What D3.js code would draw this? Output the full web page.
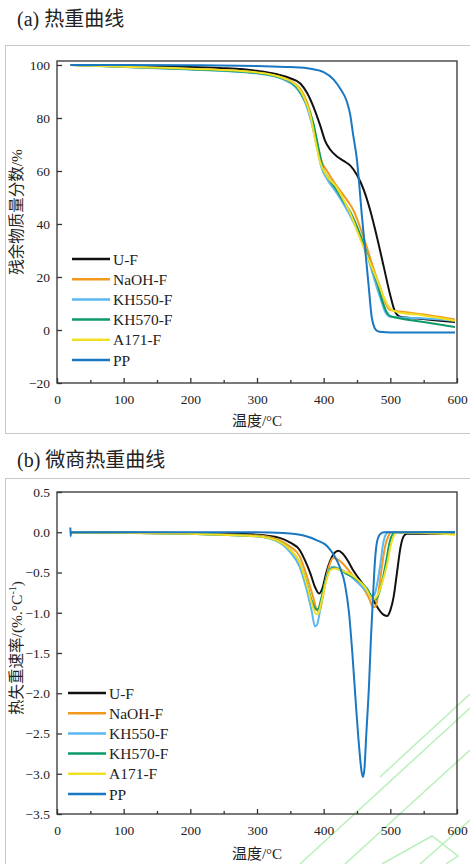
<!doctype html>
<html lang="zh">
<head>
<meta charset="utf-8">
<title>TG / DTG</title>
<style>
  body { margin: 0; background: #fff; }
  svg text { font-family: "Liberation Serif", "Times New Roman", "Noto Sans CJK SC", serif; fill: #222; }
  .cjk { font-family: "Liberation Serif", "Noto Sans CJK SC", sans-serif; }
</style>
</head>
<body>
<svg width="470" height="864"></svg>
<script src="https://d3js.org/d3.v7.min.js"></script>
<script>
// series names and colours (legend order)
var names = ["U-F", "NaOH-F", "KH550-F", "KH570-F", "A171-F", "PP"];
var colors = ["#111111", "#f39a1e", "#5bb7ef", "#0d9a68", "#f0df22", "#1a78c2"];

var xTicks = [0, 100, 200, 300, 400, 500, 600];
var tgTicks = [-20, 0, 20, 40, 60, 80, 100];
var dtgTicks = [-3.5, -3.0, -2.5, -2.0, -1.5, -1.0, -0.5, 0.0, 0.5];

// TG curves: [temperature, residual mass %]
var tgUF = [[20,100],[100,99.7],[200,99.2],[250,98.8],[300,97.8],[330,96.5],[350,95],[365,93],[375,89.5],[385,84],[395,77],[402,71.5],[410,68],[420,65.5],[430,63.8],[440,62],[450,58.5],[460,53],[470,45],[480,35],[490,24],[500,13],[507,7],[515,5],[540,4.3],[570,3.6],[597,3]];
var tgNaOH = [[20,100],[100,99.3],[200,98.5],[250,98],[300,97],[330,95.8],[350,94],[365,91],[375,86],[385,77],[392,68],[398,63],[405,60],[415,56],[425,52.5],[435,49],[445,45],[455,38.5],[465,31],[475,23],[485,16],[493,10],[500,7.5],[520,6.8],[560,5.5],[597,4]];
var tgKH550 = [[20,100],[100,99.2],[200,98.3],[300,96.8],[340,94.5],[360,91],[372,86],[382,78],[390,69],[397,61],[405,57],[420,51.5],[440,43],[455,35],[465,28.5],[475,20],[485,12],[492,7],[500,5],[540,4.5],[597,3.5]];
var tgKH570 = [[20,100],[100,99.3],[200,98.4],[300,97],[340,94.8],[360,91.5],[372,86.5],[384,78.5],[392,69],[399,61],[408,57],[419,53],[430,48.5],[440,44.5],[450,39],[459,33],[470,25],[480,18],[488,11],[494,7],[500,5.2],[510,4.6],[550,3],[597,1.1]];
var tgA171 = [[20,100],[100,99.3],[200,98.6],[300,97.2],[340,95],[360,92],[370,88],[380,81],[388,71],[394,64],[405,58],[419,54],[430,49],[440,44],[450,37.5],[459,31.7],[470,25],[480,19],[490,12.5],[500,8],[510,6.8],[550,5.5],[597,3.5]];
var tgPP = [[20,100],[100,100],[200,99.9],[300,99.6],[350,99.2],[380,98.6],[400,97.3],[415,94.5],[425,91],[435,86],[440,81],[444,74],[450,64],[453,56],[457,44],[462,31],[467,18],[472,5],[476,1],[480,-0.3],[488,-0.8],[500,-0.9],[597,-0.9]];

// DTG curves: [temperature, rate %/°C]
var dtgUF = [[20,0],[200,-0.01],[300,-0.03],[334,-0.07],[350,-0.13],[364,-0.22],[372,-0.35],[380,-0.51],[387,-0.68],[393,-0.76],[398,-0.7],[404,-0.5],[410,-0.35],[416,-0.26],[422,-0.23],[428,-0.26],[436,-0.35],[444,-0.47],[455,-0.6],[465,-0.72],[475,-0.85],[482,-0.95],[489,-1.02],[495,-1.04],[500,-0.97],[505,-0.8],[510,-0.5],[515,-0.2],[520,-0.05],[525,-0.02],[580,-0.02]];
var dtgNaOH = [[20,0],[200,-0.02],[300,-0.04],[334,-0.1],[350,-0.18],[364,-0.3],[375,-0.55],[384,-0.8],[390,-0.97],[393,-0.99],[397,-0.88],[403,-0.6],[409,-0.4],[414,-0.32],[420,-0.33],[430,-0.4],[440,-0.5],[450,-0.6],[460,-0.7],[468,-0.82],[474,-0.93],[478,-0.92],[482,-0.75],[487,-0.45],[492,-0.18],[497,-0.05],[502,0],[597,-0.01]];
var dtgKH550 = [[20,0],[200,-0.02],[300,-0.05],[334,-0.13],[350,-0.25],[364,-0.43],[374,-0.7],[382,-0.98],[387,-1.17],[390,-1.15],[395,-0.95],[402,-0.63],[408,-0.47],[414,-0.43],[422,-0.45],[434,-0.5],[444,-0.57],[454,-0.65],[464,-0.73],[472,-0.8],[476,-0.78],[480,-0.65],[485,-0.4],[489,-0.15],[493,-0.03],[497,0],[597,0]];
var dtgKH570 = [[20,0],[200,-0.02],[300,-0.05],[334,-0.12],[350,-0.22],[364,-0.38],[374,-0.62],[382,-0.85],[389,-0.96],[392,-0.95],[397,-0.8],[404,-0.58],[410,-0.46],[416,-0.44],[425,-0.47],[435,-0.52],[445,-0.56],[455,-0.62],[465,-0.7],[472,-0.8],[477,-0.84],[482,-0.78],[488,-0.6],[494,-0.35],[499,-0.12],[504,-0.02],[508,0],[597,0]];
var dtgA171 = [[20,0],[200,-0.02],[300,-0.05],[334,-0.12],[350,-0.22],[364,-0.38],[374,-0.63],[382,-0.88],[389,-1.02],[392,-1.01],[397,-0.85],[404,-0.6],[410,-0.47],[416,-0.45],[425,-0.47],[435,-0.5],[445,-0.55],[455,-0.62],[465,-0.72],[470,-0.8],[475,-0.83],[481,-0.78],[488,-0.62],[495,-0.4],[501,-0.15],[506,-0.03],[510,0],[597,-0.03]];
var dtgPP = [[20,0.06],[20.5,-0.05],[21,0],[100,0],[200,0],[300,0],[340,-0.01],[370,-0.04],[390,-0.1],[405,-0.17],[415,-0.28],[425,-0.45],[432,-0.65],[438,-1.0],[443,-1.5],[448,-2.1],[453,-2.65],[457,-2.98],[459,-3.04],[461,-2.95],[464,-2.5],[468,-1.9],[471,-1.3],[474,-0.8],[477,-0.35],[480,-0.12],[484,-0.03],[490,0],[597,0]];

var tgSeries = [tgUF, tgNaOH, tgKH550, tgKH570, tgA171, tgPP];
var dtgSeries = [dtgUF, dtgNaOH, dtgKH550, dtgKH570, dtgA171, dtgPP];

var serif = "Liberation Serif, Times New Roman, serif";
var svg = d3.select("svg");

// grey panel frames
svg.append("rect").attr("x", 5.5).attr("y", 45.5).attr("width", 480).attr("height", 388)
  .attr("fill", "none").attr("stroke", "#c8c8c8");
svg.append("rect").attr("x", 5.5).attr("y", 478.5).attr("width", 480).attr("height", 400)
  .attr("fill", "none").attr("stroke", "#c8c8c8");

// faint watermark lines at bottom right
var wm = svg.append("g").attr("stroke", "#b9f0b9").attr("stroke-width", 1.5).attr("fill", "none");
[[300, 864, 470, 708], [345, 864, 470, 750], [380, 777, 470, 694], [420, 864, 470, 820]].forEach(function(l){
  wm.append("line").attr("x1", l[0]).attr("y1", l[1]).attr("x2", l[2]).attr("y2", l[3]);
});
wm.append("path").attr("d", "M382,864 L432,836 L458,856 L446,864");

// titles
svg.append("text").attr("class", "cjk").attr("x", 17).attr("y", 26).attr("font-size", 20).text("(a) 热重曲线");
svg.append("text").attr("class", "cjk").attr("x", 17).attr("y", 467).attr("font-size", 20).text("(b) 微商热重曲线");

function drawPanel(cfg){
  var x = d3.scaleLinear().domain([0, 600]).range([57, 457]);
  var y = d3.scaleLinear().domain(cfg.yDomain).range(cfg.yRange);
  var g = svg.append("g");

  // frame of plot area
  g.append("rect").attr("x", x(0)).attr("y", y(cfg.yDomain[1]))
    .attr("width", x(600) - x(0)).attr("height", y(cfg.yDomain[0]) - y(cfg.yDomain[1]))
    .attr("fill", "none").attr("stroke", "#333").attr("stroke-width", 1.3);

  // x axis: major ticks inward, minor at 50
  var xa = g.append("g").attr("transform", "translate(0," + y(cfg.yDomain[0]) + ")")
    .call(d3.axisBottom(x).tickValues(xTicks).tickSize(-5).tickPadding(11).tickFormat(d3.format("d")));
  xa.attr("font-family", serif);
  xa.select(".domain").remove();
  xa.selectAll("line").attr("stroke", "#333").attr("stroke-width", 1.3);
  xa.selectAll("text").attr("font-size", 13.5).attr("fill", "#222");
  g.append("g").attr("transform", "translate(0," + y(cfg.yDomain[0]) + ")")
    .call(d3.axisBottom(x).tickValues([50, 150, 250, 350, 450, 550]).tickSize(-3).tickFormat(""))
    .call(function(s){ s.select(".domain").remove(); s.selectAll("line").attr("stroke", "#333").attr("stroke-width", 1.3); });

  // y axis
  var ya = g.append("g").attr("transform", "translate(" + x(0) + ",0)")
    .call(d3.axisLeft(y).tickValues(cfg.yTicks).tickSize(-5).tickPadding(7).tickFormat(cfg.yFormat));
  ya.attr("font-family", serif);
  ya.select(".domain").remove();
  ya.selectAll("line").attr("stroke", "#333").attr("stroke-width", 1.3);
  ya.selectAll("text").attr("font-size", 13.5).attr("fill", "#222");

  // curves
  var line = d3.line().x(function(d){ return x(d[0]); }).y(function(d){ return y(d[1]); })
    .curve(d3.curveMonotoneX);
  g.selectAll("path.curve").data(cfg.series).enter().append("path").attr("class", "curve")
    .attr("d", line).attr("fill", "none")
    .attr("stroke", function(d, i){ return colors[i]; })
    .attr("stroke-width", 2).attr("stroke-linejoin", "round");

  // legend
  var lg = g.append("g");
  names.forEach(function(n, i){
    var ly = cfg.legendY + i * 20.2;
    lg.append("line").attr("x1", cfg.legendX).attr("x2", cfg.legendX + 38)
      .attr("y1", ly).attr("y2", ly).attr("stroke", colors[i]).attr("stroke-width", 2.5);
    lg.append("text").attr("x", cfg.legendX + 41).attr("y", ly + 5.5).attr("font-size", 15.5).text(n);
  });

  // axis titles
  svg.append("text").attr("class", "cjk").attr("x", 257).attr("y", cfg.xLabelY)
    .attr("text-anchor", "middle").attr("font-size", 15).text("温度/°C");
  return g;
}

drawPanel({
  yDomain: [-20, 101.5], yRange: [383, 61], yTicks: tgTicks, yFormat: d3.format("d"),
  series: tgSeries, legendX: 72, legendY: 259, xLabelY: 426
});
svg.append("text").attr("class", "cjk").attr("transform", "translate(22,212) rotate(-90)")
  .attr("text-anchor", "middle").attr("font-size", 15.5).text("残余物质量分数/%");

drawPanel({
  yDomain: [-3.5, 0.5], yRange: [814, 492], yTicks: dtgTicks, yFormat: d3.format(".1f"),
  series: dtgSeries, legendX: 68, legendY: 693, xLabelY: 859
});
var yl = svg.append("text").attr("class", "cjk").attr("transform", "translate(22,648) rotate(-90)")
  .attr("text-anchor", "middle").attr("font-size", 15.5);
yl.append("tspan").text("热失重速率/(%.°C");
yl.append("tspan").attr("font-size", 10).attr("dy", -6).text("-1");
yl.append("tspan").attr("dy", 6).text(")");
</script>
</body>
</html>
